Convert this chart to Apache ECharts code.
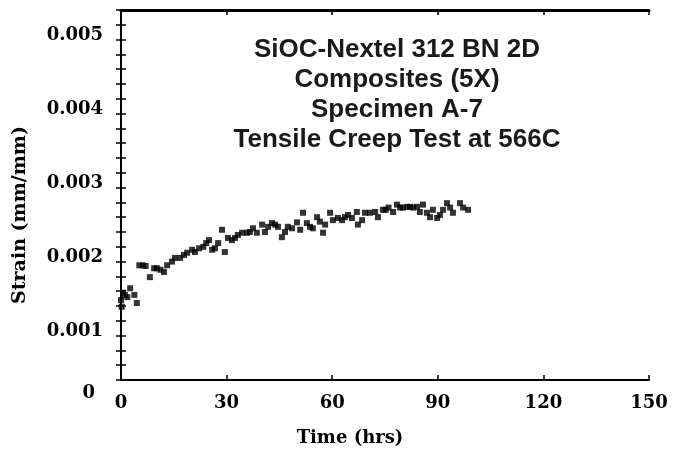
<!DOCTYPE html>
<html>
<head>
<meta charset="utf-8">
<script src="https://cdn.jsdelivr.net/npm/echarts@6/dist/echarts.min.js"></script>
<style>
html,body{margin:0;padding:0;background:#fff;}
#chart{width:673px;height:452px;}
</style>
</head>
<body>
<div id="chart"></div>
<script>
// Time (hrs)
const timeHrs = [0, 0.2, 0.6, 1.1, 1.8, 2.6, 3.8, 4.5, 5.2, 6.2, 7.0, 8.2, 9.4, 10.2, 11.2, 12.2, 13.1, 14.5, 15.3, 16.8,
  17.9, 18.8, 20.2, 21.0, 22.2, 23.4, 24.2, 25.0, 25.9, 26.7, 27.6, 28.7, 29.5, 30.4, 31.5, 32.4, 33.2, 34.4, 35.8, 36.6,
  37.5, 38.6, 40.1, 40.9, 41.8, 42.9, 43.8, 44.6, 45.7, 46.6, 47.4, 48.6, 50.0, 50.9, 51.7, 52.8, 53.7, 54.5, 55.7, 56.5,
  57.4, 58.0, 59.4, 60.2, 61.6, 62.8, 63.6, 64.5, 65.6, 67.0, 67.3, 68.5, 69.3, 70.7, 72.2, 73.0, 74.4, 75.2, 76.0, 77.3,
  78.4, 79.3, 80.1, 81.3, 82.1, 83.0, 84.1, 84.9, 85.8, 86.9, 87.8, 88.6, 89.8, 90.6, 91.5, 92.6, 93.5, 94.3, 96.3, 97.2, 98.6];
// Strain (mm/mm)
const strain = [0.00128, 0.00119, 0.00138, 0.00135, 0.00132, 0.00144, 0.00135, 0.00124, 0.00175, 0.00175, 0.00174, 0.00159, 0.00171, 0.00171, 0.00169, 0.00166, 0.00175, 0.00180, 0.00185, 0.00185,
  0.00189, 0.00192, 0.00196, 0.00193, 0.00198, 0.00200, 0.00205, 0.00209, 0.00196, 0.00198, 0.00205, 0.00223, 0.00193, 0.00212, 0.00209, 0.00212, 0.00216, 0.00219, 0.00219, 0.00220,
  0.00225, 0.00219, 0.00230, 0.00220, 0.00227, 0.00232, 0.00230, 0.00227, 0.00213, 0.00220, 0.00227, 0.00225, 0.00233, 0.00223, 0.00246, 0.00232, 0.00227, 0.00225, 0.00240, 0.00234,
  0.00219, 0.00230, 0.00246, 0.00236, 0.00239, 0.00236, 0.00240, 0.00243, 0.00239, 0.00247, 0.00230, 0.00236, 0.00246, 0.00246, 0.00247, 0.00240, 0.00250, 0.00250, 0.00253, 0.00247,
  0.00257, 0.00253, 0.00253, 0.00254, 0.00254, 0.00253, 0.00254, 0.00247, 0.00257, 0.00246, 0.00240, 0.00250, 0.00239, 0.00243, 0.00250, 0.00259, 0.00253, 0.00246, 0.00259, 0.00253, 0.00250];
const annotationLines = ['SiOC-Nextel 312 BN 2D', 'Composites (5X)', 'Specimen A-7', 'Tensile Creep Test at 566C'];
const xTitle = 'Time (hrs)';
const yTitle = 'Strain (mm/mm)';

const points = timeHrs.map((t, i) => [t, strain[i]]);
const labelFont = { fontFamily: 'DejaVu Serif', fontWeight: 'bold', fontSize: 18, color: '#000' };
const axisLine = { show: true, lineStyle: { color: '#000', width: 2 } };
const tick = { show: true, inside: true, length: 5, lineStyle: { color: '#000', width: 1.5 } };

const chart = echarts.init(document.getElementById('chart'), null, { renderer: 'canvas' });
chart.setOption({
  backgroundColor: '#fff',
  animation: false,
  title: {
    text: annotationLines.join('\n'),
    left: 392, top: 30, textAlign: 'center',
    textStyle: { fontFamily: 'Liberation Sans', fontWeight: 'bold', fontSize: 26, lineHeight: 30, color: '#1a1a1a' }
  },
  grid: { left: 121, top: 10, width: 528, height: 370, containLabel: false },
  xAxis: [{
    type: 'value', position: 'bottom', min: 0, max: 150, interval: 30,
    axisLine, axisTick: tick, splitLine: { show: false },
    axisLabel: Object.assign({ margin: 14 }, labelFont),
    name: xTitle, nameLocation: 'middle', nameGap: 49,
    nameTextStyle: Object.assign({ padding: [0, 70, 0, 0] }, labelFont)
  }, {
    type: 'value', position: 'top', min: 0, max: 150, interval: 30,
    axisLine: { show: true, lineStyle: { color: '#000', width: 3 } }, axisTick: tick, splitLine: { show: false }, axisLabel: { show: false }
  }],
  yAxis: [{
    type: 'value', position: 'left', min: 0.0002, max: 0.0052, interval: 0.0002,
    axisLine, axisTick: tick, splitLine: { show: false },
    axisLabel: Object.assign({
      margin: 18,
      showMinLabel: true, showMaxLabel: true,
      formatter: function (v) {
        const n = Math.round(v * 10000);
        if (n === 2) return '{z|0}';
        if (n % 10 === 0) return '{a|' + (n / 10000).toFixed(3) + '}';
        return '';
      },
      rich: {
        a: Object.assign({ padding: [21, 0, 0, 0] }, labelFont),
        z: Object.assign({ padding: [26, 8, 0, 0] }, labelFont)
      }
    }, labelFont),
    name: yTitle, nameLocation: 'middle', nameGap: 91, nameRotate: 90,
    nameTextStyle: Object.assign({ padding: [0, 40, 0, 0] }, labelFont, { fontSize: 19 })
  }, {
    type: 'value', position: 'right', min: 0.0002, max: 0.0052, interval: 0.0002,
    axisLine, axisTick: tick, splitLine: { show: false }, axisLabel: { show: false }
  }],
  series: [{
    type: 'scatter', xAxisIndex: 0, yAxisIndex: 0,
    symbol: 'rect', symbolSize: 6,
    itemStyle: { color: '#000' },
    data: points
  }]
});
</script>
</body>
</html>
